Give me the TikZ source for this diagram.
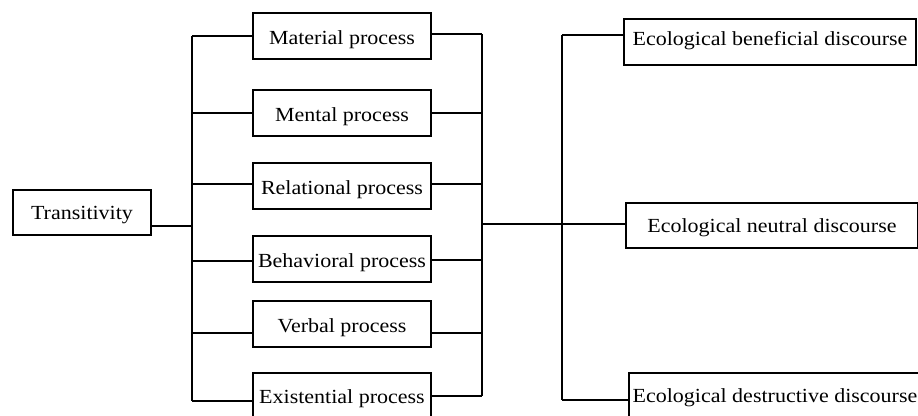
\documentclass[tikz,border=0pt]{standalone}
\usepackage{fontspec}
\setmainfont[FakeStretch=1.1]{Liberation Serif}
\begin{document}
\begin{tikzpicture}[x=1pt,y=-1pt,
  box/.style={draw,line width=1.5pt,inner sep=0pt,text depth=0pt,font=\fontsize{20}{24}\selectfont},
  pbox/.style={box,minimum width=178pt,minimum height=46pt,text height=17pt},
  ebox/.style={box,minimum width=292pt,minimum height=46pt},
  conn/.style={line width=1.5pt}]
\useasboundingbox[fill=white] (0,0) rectangle (918,415);
% nodes
\node[box,minimum width=138pt,minimum height=45pt,text height=13pt] (tr) at (82,212.5) {Transitivity};
\node[pbox] (mat) at (342,36) {Material process};
\node[pbox] (men) at (342,113) {Mental process};
\node[pbox] (rel) at (342,186) {Relational process};
\node[pbox] (beh) at (342,259) {Behavioral process};
\node[pbox] (ver) at (342,324) {Verbal process};
\node[pbox,text height=15pt] (exi) at (342,396) {Existential process};
\node[ebox,text height=6pt] (ben) at (770,42) {Ecological beneficial discourse};
\node[ebox,minimum height=45pt,text height=13pt] (neu) at (772,225.5) {Ecological neutral discourse};
\node[ebox,text height=12pt] (des) at (775,396) {Ecological destructive discourse};
% left bus
\coordinate (lt) at (192,36);
\coordinate (lb) at (192,401);
\coordinate (lm) at (192,226);
\coordinate (lmen) at (192,113);
\coordinate (lrel) at (192,184);
\coordinate (lbeh) at (192,261);
\coordinate (lver) at (192,333);
% right bus
\coordinate (rt) at (482,34);
\coordinate (rb) at (482,396);
\coordinate (rmen) at (482,113);
\coordinate (rrel) at (482,184);
\coordinate (rbeh) at (482,260);
\coordinate (rver) at (482,333);
\coordinate (rm) at (482,224);
% second bus
\coordinate (st) at (562,35);
\coordinate (sb) at (562,400);
% connectors
\draw[conn] (lt) -- (lb);
\draw[conn] (tr.east |- lm) -- (lm);
\draw[conn] (lt) -- (lt -| mat.west);
\draw[conn] (lmen) -- (lmen -| men.west);
\draw[conn] (lrel) -- (lrel -| rel.west);
\draw[conn] (lbeh) -- (lbeh -| beh.west);
\draw[conn] (lver) -- (lver -| ver.west);
\draw[conn] (lb) -- (lb -| exi.west);
\draw[conn] (rt) -- (rb);
\draw[conn] (rt -| mat.east) -- (rt);
\draw[conn] (rmen -| men.east) -- (rmen);
\draw[conn] (rrel -| rel.east) -- (rrel);
\draw[conn] (rbeh -| beh.east) -- (rbeh);
\draw[conn] (rver -| ver.east) -- (rver);
\draw[conn] (rb -| exi.east) -- (rb);
\draw[conn] (rm) -- (rm -| neu.west);
\draw[conn] (st) -- (sb);
\draw[conn] (st) -- (st -| ben.west);
\draw[conn] (sb) -- (sb -| des.west);
\end{tikzpicture}
\end{document}
